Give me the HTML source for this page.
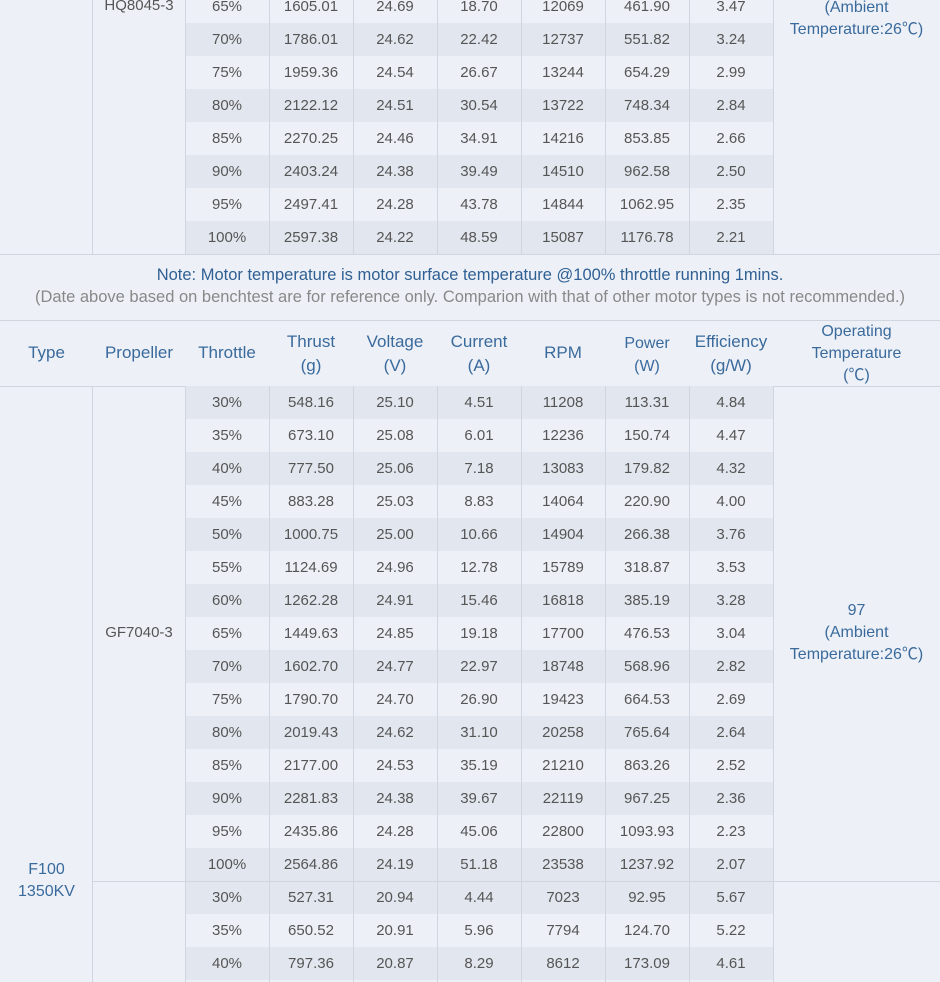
<!DOCTYPE html>
<html><head><meta charset="utf-8"><style>
*{margin:0;padding:0;box-sizing:border-box}
body{width:940px;height:982px;background:#edf1f7;position:relative;overflow:hidden;font-family:"Liberation Sans","Noto Sans CJK SC",sans-serif;font-size:15px;color:#555}
.r{position:absolute;left:185px;width:588px;height:33px;display:flex}
.r.s{background:#e2e7ef}
.r span{width:84px;text-align:center;line-height:34px}
.v{position:absolute;width:1px;background:#d0d6df}
.h{position:absolute;height:1px;background:#d0d6df}
.t{position:absolute;text-align:center;color:#3a6a9c}
.hd{font-size:17px}
</style></head><body>
<div class="r" style="top:-10px"><span>65%</span><span>1605.01</span><span>24.69</span><span>18.70</span><span>12069</span><span>461.90</span><span>3.47</span></div>
<div class="r s" style="top:23px"><span>70%</span><span>1786.01</span><span>24.62</span><span>22.42</span><span>12737</span><span>551.82</span><span>3.24</span></div>
<div class="r" style="top:56px"><span>75%</span><span>1959.36</span><span>24.54</span><span>26.67</span><span>13244</span><span>654.29</span><span>2.99</span></div>
<div class="r s" style="top:89px"><span>80%</span><span>2122.12</span><span>24.51</span><span>30.54</span><span>13722</span><span>748.34</span><span>2.84</span></div>
<div class="r" style="top:122px"><span>85%</span><span>2270.25</span><span>24.46</span><span>34.91</span><span>14216</span><span>853.85</span><span>2.66</span></div>
<div class="r s" style="top:155px"><span>90%</span><span>2403.24</span><span>24.38</span><span>39.49</span><span>14510</span><span>962.58</span><span>2.50</span></div>
<div class="r" style="top:188px"><span>95%</span><span>2497.41</span><span>24.28</span><span>43.78</span><span>14844</span><span>1062.95</span><span>2.35</span></div>
<div class="r s" style="top:221px"><span>100%</span><span>2597.38</span><span>24.22</span><span>48.59</span><span>15087</span><span>1176.78</span><span>2.21</span></div>
<div style="position:absolute;left:93px;width:92px;top:-3px;text-align:center">HQ8045-3</div>
<div class="t" style="left:773px;width:167px;top:-3px;line-height:22px;font-size:16px">(Ambient<br>Temperature:26℃)</div>

<div class="h" style="left:0;width:940px;top:254px"></div>
<div class="t" style="left:0;width:940px;top:266px;color:#2f5f93;font-size:16.5px">Note: Motor temperature is motor surface temperature @100% throttle running 1mins.</div>
<div class="t" style="left:0;width:940px;top:288px;color:#888;font-size:16.5px">(Date above based on benchtest are for reference only. Comparion with that of other motor types is not recommended.)</div>
<div class="h" style="left:0;width:940px;top:320px"></div>

<div class="t hd" style="left:0;width:93px;top:343px">Type</div>
<div class="t hd" style="left:93px;width:92px;top:343px">Propeller</div>
<div class="t hd" style="left:185px;width:84px;top:343px">Throttle</div>
<div class="t hd" style="left:269px;width:84px;top:330px;line-height:24px">Thrust<br>(g)</div>
<div class="t hd" style="left:353px;width:84px;top:330px;line-height:24px">Voltage<br>(V)</div>
<div class="t hd" style="left:437px;width:84px;top:330px;line-height:24px">Current<br>(A)</div>
<div class="t hd" style="left:521px;width:84px;top:343px">RPM</div>
<div class="t" style="left:605px;width:84px;top:332px;line-height:23px;font-size:16px">Power<br>(W)</div>
<div class="t hd" style="left:689px;width:84px;top:330px;line-height:24px">Efficiency<br>(g/W)</div>
<div class="t" style="left:773px;width:167px;top:321px;line-height:22px;font-size:16px">Operating<br>Temperature<br>(℃)</div>
<div class="h" style="left:0;width:940px;top:386px"></div>

<div class="r s" style="top:386px"><span>30%</span><span>548.16</span><span>25.10</span><span>4.51</span><span>11208</span><span>113.31</span><span>4.84</span></div>
<div class="r" style="top:419px"><span>35%</span><span>673.10</span><span>25.08</span><span>6.01</span><span>12236</span><span>150.74</span><span>4.47</span></div>
<div class="r s" style="top:452px"><span>40%</span><span>777.50</span><span>25.06</span><span>7.18</span><span>13083</span><span>179.82</span><span>4.32</span></div>
<div class="r" style="top:485px"><span>45%</span><span>883.28</span><span>25.03</span><span>8.83</span><span>14064</span><span>220.90</span><span>4.00</span></div>
<div class="r s" style="top:518px"><span>50%</span><span>1000.75</span><span>25.00</span><span>10.66</span><span>14904</span><span>266.38</span><span>3.76</span></div>
<div class="r" style="top:551px"><span>55%</span><span>1124.69</span><span>24.96</span><span>12.78</span><span>15789</span><span>318.87</span><span>3.53</span></div>
<div class="r s" style="top:584px"><span>60%</span><span>1262.28</span><span>24.91</span><span>15.46</span><span>16818</span><span>385.19</span><span>3.28</span></div>
<div class="r" style="top:617px"><span>65%</span><span>1449.63</span><span>24.85</span><span>19.18</span><span>17700</span><span>476.53</span><span>3.04</span></div>
<div class="r s" style="top:650px"><span>70%</span><span>1602.70</span><span>24.77</span><span>22.97</span><span>18748</span><span>568.96</span><span>2.82</span></div>
<div class="r" style="top:683px"><span>75%</span><span>1790.70</span><span>24.70</span><span>26.90</span><span>19423</span><span>664.53</span><span>2.69</span></div>
<div class="r s" style="top:716px"><span>80%</span><span>2019.43</span><span>24.62</span><span>31.10</span><span>20258</span><span>765.64</span><span>2.64</span></div>
<div class="r" style="top:749px"><span>85%</span><span>2177.00</span><span>24.53</span><span>35.19</span><span>21210</span><span>863.26</span><span>2.52</span></div>
<div class="r s" style="top:782px"><span>90%</span><span>2281.83</span><span>24.38</span><span>39.67</span><span>22119</span><span>967.25</span><span>2.36</span></div>
<div class="r" style="top:815px"><span>95%</span><span>2435.86</span><span>24.28</span><span>45.06</span><span>22800</span><span>1093.93</span><span>2.23</span></div>
<div class="r s" style="top:848px"><span>100%</span><span>2564.86</span><span>24.19</span><span>51.18</span><span>23538</span><span>1237.92</span><span>2.07</span></div>
<div class="r s" style="top:881px"><span>30%</span><span>527.31</span><span>20.94</span><span>4.44</span><span>7023</span><span>92.95</span><span>5.67</span></div>
<div class="r" style="top:914px"><span>35%</span><span>650.52</span><span>20.91</span><span>5.96</span><span>7794</span><span>124.70</span><span>5.22</span></div>
<div class="r s" style="top:947px"><span>40%</span><span>797.36</span><span>20.87</span><span>8.29</span><span>8612</span><span>173.09</span><span>4.61</span></div>

<div style="position:absolute;left:93px;width:92px;top:624px;text-align:center">GF7040-3</div>
<div class="t" style="left:773px;width:167px;top:600px;line-height:22px;font-size:16px">97<br>(Ambient<br>Temperature:26℃)</div>
<div class="t" style="left:0;width:93px;top:859px;line-height:22px;font-size:16px">F100<br>1350KV</div>
<div class="h" style="left:93px;width:847px;top:881px"></div>

<div class="v" style="left:92px;top:0;height:254px"></div>
<div class="v" style="left:185px;top:0;height:254px"></div>
<div class="v" style="left:269px;top:0;height:254px"></div>
<div class="v" style="left:353px;top:0;height:254px"></div>
<div class="v" style="left:437px;top:0;height:254px"></div>
<div class="v" style="left:521px;top:0;height:254px"></div>
<div class="v" style="left:605px;top:0;height:254px"></div>
<div class="v" style="left:689px;top:0;height:254px"></div>
<div class="v" style="left:773px;top:0;height:254px"></div>
<div class="v" style="left:92px;top:386px;height:596px"></div>
<div class="v" style="left:185px;top:386px;height:596px"></div>
<div class="v" style="left:269px;top:386px;height:596px"></div>
<div class="v" style="left:353px;top:386px;height:596px"></div>
<div class="v" style="left:437px;top:386px;height:596px"></div>
<div class="v" style="left:521px;top:386px;height:596px"></div>
<div class="v" style="left:605px;top:386px;height:596px"></div>
<div class="v" style="left:689px;top:386px;height:596px"></div>
<div class="v" style="left:773px;top:386px;height:596px"></div>
</body></html>
